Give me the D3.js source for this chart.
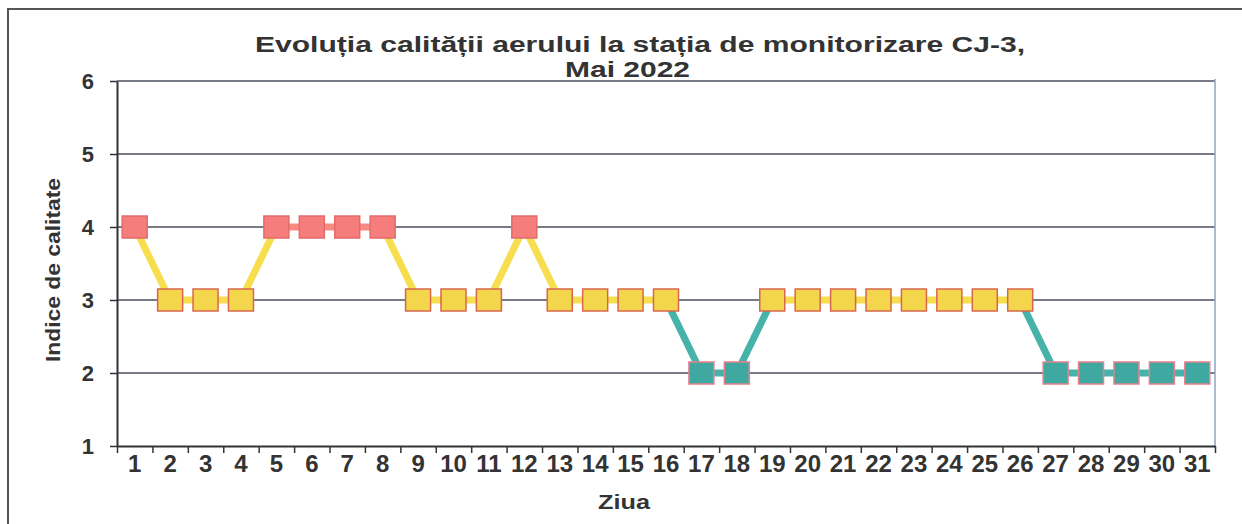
<!DOCTYPE html>
<html>
<head>
<meta charset="utf-8">
<script src="https://cdn.jsdelivr.net/npm/d3@7"></script>
<style>
  body { margin: 0; background: #fff; }
  text { font-family: "Liberation Sans", Arial, sans-serif; font-weight: bold; fill: #333; }
</style>
</head>
<body>
<svg id="chart" width="1242" height="524"></svg>
<script>
var days = d3.range(1, 32).map(String);
var indexValues = [4, 3, 3, 3, 4, 4, 4, 4, 3, 3, 3, 4, 3, 3, 3, 3, 2, 2, 3, 3, 3, 3, 3, 3, 3, 3, 2, 2, 2, 2, 2];
var yTicks = [1, 2, 3, 4, 5, 6];
var titleLines = ["Evoluția calității aerului la stația de monitorizare CJ-3,", "Mai 2022"];

// colour per index value
var fillColor = { 2: "#3fa9a1", 3: "#f3d64b", 4: "#f57d7b" };
var borderColor = { 2: "#e8808c", 3: "#d8664e", 4: "#e36b6b" };
var lineColor = { 2: "#45b3aa", 3: "#f6de4f", 4: "#f78a82" };

var plotLeft = 117, plotRight = 1215, plotTop = 81, plotBottom = 446;

var svg = d3.select("#chart");

// outer chart frame (cut by the page)
svg.append("path")
    .attr("d", "M8,530 L8,9 L1250,9")
    .attr("fill", "none")
    .attr("stroke", "#555")
    .attr("stroke-width", 2);

var x = d3.scaleBand().domain(days).range([plotLeft, plotRight]).padding(0);
var xEdge = d3.scaleLinear().domain([0, 31]).range([plotLeft, plotRight]);
var y = d3.scaleLinear().domain([1, 6]).range([plotBottom, plotTop]);

// gridlines
svg.append("g")
    .selectAll("line")
    .data(yTicks.slice(1))
    .enter().append("line")
    .attr("x1", plotLeft)
    .attr("x2", plotRight)
    .attr("y1", function(d) { return y(d); })
    .attr("y2", function(d) { return y(d); })
    .attr("stroke", "#4a4f5c")
    .attr("stroke-width", 1.3);

// right border of plot area
svg.append("line")
    .attr("x1", plotRight).attr("x2", plotRight)
    .attr("y1", plotTop - 2).attr("y2", plotBottom)
    .attr("stroke", "#8fa3c4")
    .attr("stroke-width", 1.5);

// y axis
var yAxis = svg.append("g")
    .attr("transform", "translate(" + plotLeft + ",0)")
    .call(d3.axisLeft(y).tickValues(yTicks).tickFormat(d3.format("d"))
        .tickSize(7).tickSizeOuter(0).tickPadding(16));
yAxis.select(".domain").attr("stroke", "#333").attr("stroke-width", 2);
yAxis.selectAll(".tick line").attr("stroke", "#333").attr("stroke-width", 1.5);
yAxis.selectAll("text").style("font-size", "22px").attr("fill", "#333");

// x axis: tick marks between categories, labels centred
var xTicks = svg.append("g")
    .attr("transform", "translate(0," + plotBottom + ")")
    .call(d3.axisBottom(xEdge).ticks(31).tickSize(7).tickSizeOuter(0).tickFormat(""));
xTicks.select(".domain").attr("stroke", "#333").attr("stroke-width", 2);
xTicks.selectAll(".tick line").attr("stroke", "#333").attr("stroke-width", 1.5);

var xLabels = svg.append("g")
    .attr("transform", "translate(0," + plotBottom + ")")
    .call(d3.axisBottom(x).tickSize(0).tickPadding(9));
xLabels.select(".domain").remove();
xLabels.selectAll("text").style("font-size", "24px").attr("fill", "#333");

// line segments, coloured by the lower endpoint
var segments = d3.range(indexValues.length - 1).map(function(i) {
    return { a: i, b: i + 1, v: Math.min(indexValues[i], indexValues[i + 1]) };
});
svg.append("g")
    .selectAll("line")
    .data(segments)
    .enter().append("line")
    .attr("x1", function(d) { return x(days[d.a]) + x.bandwidth() / 2; })
    .attr("y1", function(d) { return y(indexValues[d.a]); })
    .attr("x2", function(d) { return x(days[d.b]) + x.bandwidth() / 2; })
    .attr("y2", function(d) { return y(indexValues[d.b]); })
    .attr("stroke", function(d) { return lineColor[d.v]; })
    .attr("stroke-width", 7);

// square markers
var mw = 25, mh = 22;
svg.append("g")
    .selectAll("rect")
    .data(indexValues)
    .enter().append("rect")
    .attr("x", function(d, i) { return x(days[i]) + x.bandwidth() / 2 - mw / 2; })
    .attr("y", function(d) { return y(d) - mh / 2; })
    .attr("width", mw)
    .attr("height", mh)
    .attr("fill", function(d) { return fillColor[d]; })
    .attr("stroke", function(d) { return borderColor[d]; })
    .attr("stroke-width", 1.5);

// title
svg.append("text")
    .attr("x", 255)
    .attr("y", 52)
    .attr("textLength", 770)
    .attr("lengthAdjust", "spacingAndGlyphs")
    .style("font-size", "22px")
    .text(titleLines[0]);
svg.append("text")
    .attr("x", 565)
    .attr("y", 77)
    .attr("textLength", 125)
    .attr("lengthAdjust", "spacingAndGlyphs")
    .style("font-size", "22px")
    .text(titleLines[1]);

// axis titles
svg.append("text")
    .attr("transform", "translate(60,270) rotate(-90)")
    .attr("text-anchor", "middle")
    .attr("textLength", 184)
    .attr("lengthAdjust", "spacingAndGlyphs")
    .style("font-size", "20px")
    .text("Indice de calitate");
svg.append("text")
    .attr("x", 598)
    .attr("y", 509)
    .attr("textLength", 52)
    .attr("lengthAdjust", "spacingAndGlyphs")
    .style("font-size", "21px")
    .text("Ziua");
</script>
</body>
</html>
